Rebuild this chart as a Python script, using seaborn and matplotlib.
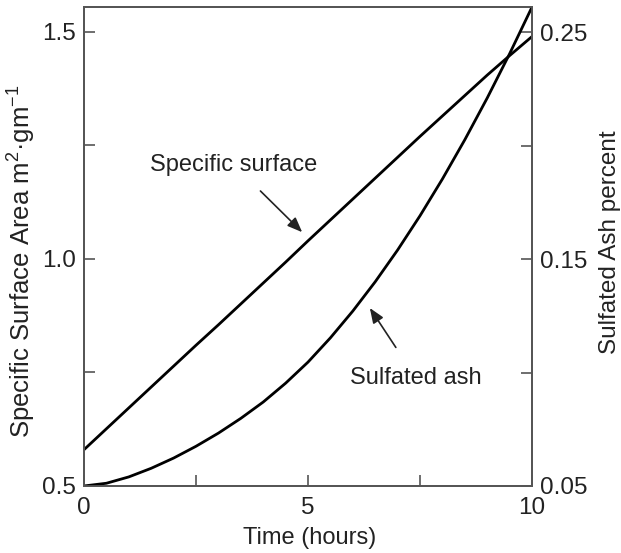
import matplotlib
matplotlib.use("Agg")
import matplotlib.pyplot as plt
import seaborn as sns
import pandas as pd

# Time axis (hours)
hours = [0, 0.5, 1, 1.5, 2, 2.5, 3, 3.5, 4, 4.5, 5,
         5.5, 6, 6.5, 7, 7.5, 8, 8.5, 9, 9.5, 10]

# Specific surface area, m2/gm (left axis)
specific_surface = [0.580, 0.626, 0.672, 0.718, 0.764, 0.810, 0.855, 0.901, 0.947, 0.993, 1.040,
                    1.086, 1.132, 1.178, 1.224, 1.270, 1.315, 1.360, 1.405, 1.448, 1.490]

# Sulfated ash, percent (right axis)
sulfated_ash = [0.0500, 0.0512, 0.0540, 0.0578, 0.0623, 0.0675, 0.0733, 0.0798, 0.0870, 0.0953, 0.1046,
                0.1153, 0.1271, 0.1400, 0.1540, 0.1691, 0.1853, 0.2026, 0.2210, 0.2405, 0.2611]

x_ticks = [0, 2.5, 5, 7.5, 10]
x_labels = ["0", "", "5", "", "10"]
left_ticks = [0.5, 0.75, 1.0, 1.25, 1.5]
left_labels = ["0.5", "", "1.0", "", "1.5"]
right_ticks = [0.05, 0.10, 0.15, 0.20, 0.25]
right_labels = ["0.05", "", "0.15", "", "0.25"]

sns.set_style("ticks")
plt.rcParams["font.family"] = ["Liberation Sans", "DejaVu Sans"]
plt.rcParams["mathtext.fontset"] = "custom"
plt.rcParams["mathtext.rm"] = "Liberation Sans"
plt.rcParams["mathtext.it"] = "Liberation Sans"

text_color = "#222222"
df = pd.DataFrame({"hours": hours, "surface": specific_surface, "ash": sulfated_ash})

fig = plt.figure(figsize=(6.21, 5.53), dpi=100)
ax = fig.add_axes([0.1353, 0.1212, 0.7214, 0.8661])
ax2 = ax.twinx()

sns.lineplot(data=df, x="hours", y="surface", ax=ax, color="black", linewidth=2.0)
sns.lineplot(data=df, x="hours", y="ash", ax=ax2, color="black", linewidth=2.0)

ax.set_xlim(0, 10)
ax.set_ylim(0.5, 1.555)
ax2.set_ylim(0.05, 0.2611)

ax.set_xticks(x_ticks)
ax.set_xticklabels(x_labels)
ax.set_yticks(left_ticks)
ax.set_yticklabels(left_labels)
ax2.set_yticks(right_ticks)
ax2.set_yticklabels(right_labels)

spine_color = "#555555"
for a in (ax, ax2):
    for s in a.spines.values():
        s.set_color(spine_color)
        s.set_linewidth(1.3)
    a.tick_params(direction="in", length=8, width=1.2, color=spine_color,
                  labelsize=17.5, labelcolor=text_color, pad=6)
ax.tick_params(axis="x", pad=8)

ax.set_xlabel("Time (hours)", fontsize=17, color=text_color)
ax.set_ylabel(r"Specific Surface Area m$^2$·gm$^{-1}$", fontsize=18.5, color=text_color)
ax2.set_ylabel("Sulfated Ash percent", fontsize=17.5, color=text_color)
ax.xaxis.set_label_coords(0.503, -0.086)
ax.yaxis.set_label_coords(-0.102, 0.47)
ax2.yaxis.set_label_coords(1.150, 0.51)

ax.annotate("Specific surface", xy=(4.87, 1.059), xytext=(3.35, 1.207),
            fontsize=17, color=text_color, ha="center", va="center",
            arrowprops=dict(arrowstyle="-|>,head_length=0.5,head_width=0.2",
                            color=text_color, lw=1.2,
                            shrinkA=12, shrinkB=0, mutation_scale=18))
ax.annotate("Sulfated ash", xy=(6.38, 0.892), xytext=(7.41, 0.738),
            fontsize=17, color=text_color, ha="center", va="center",
            arrowprops=dict(arrowstyle="-|>,head_length=0.5,head_width=0.2",
                            color=text_color, lw=1.2,
                            shrinkA=14, shrinkB=0, mutation_scale=18))

fig.savefig("out.png", dpi=100)
